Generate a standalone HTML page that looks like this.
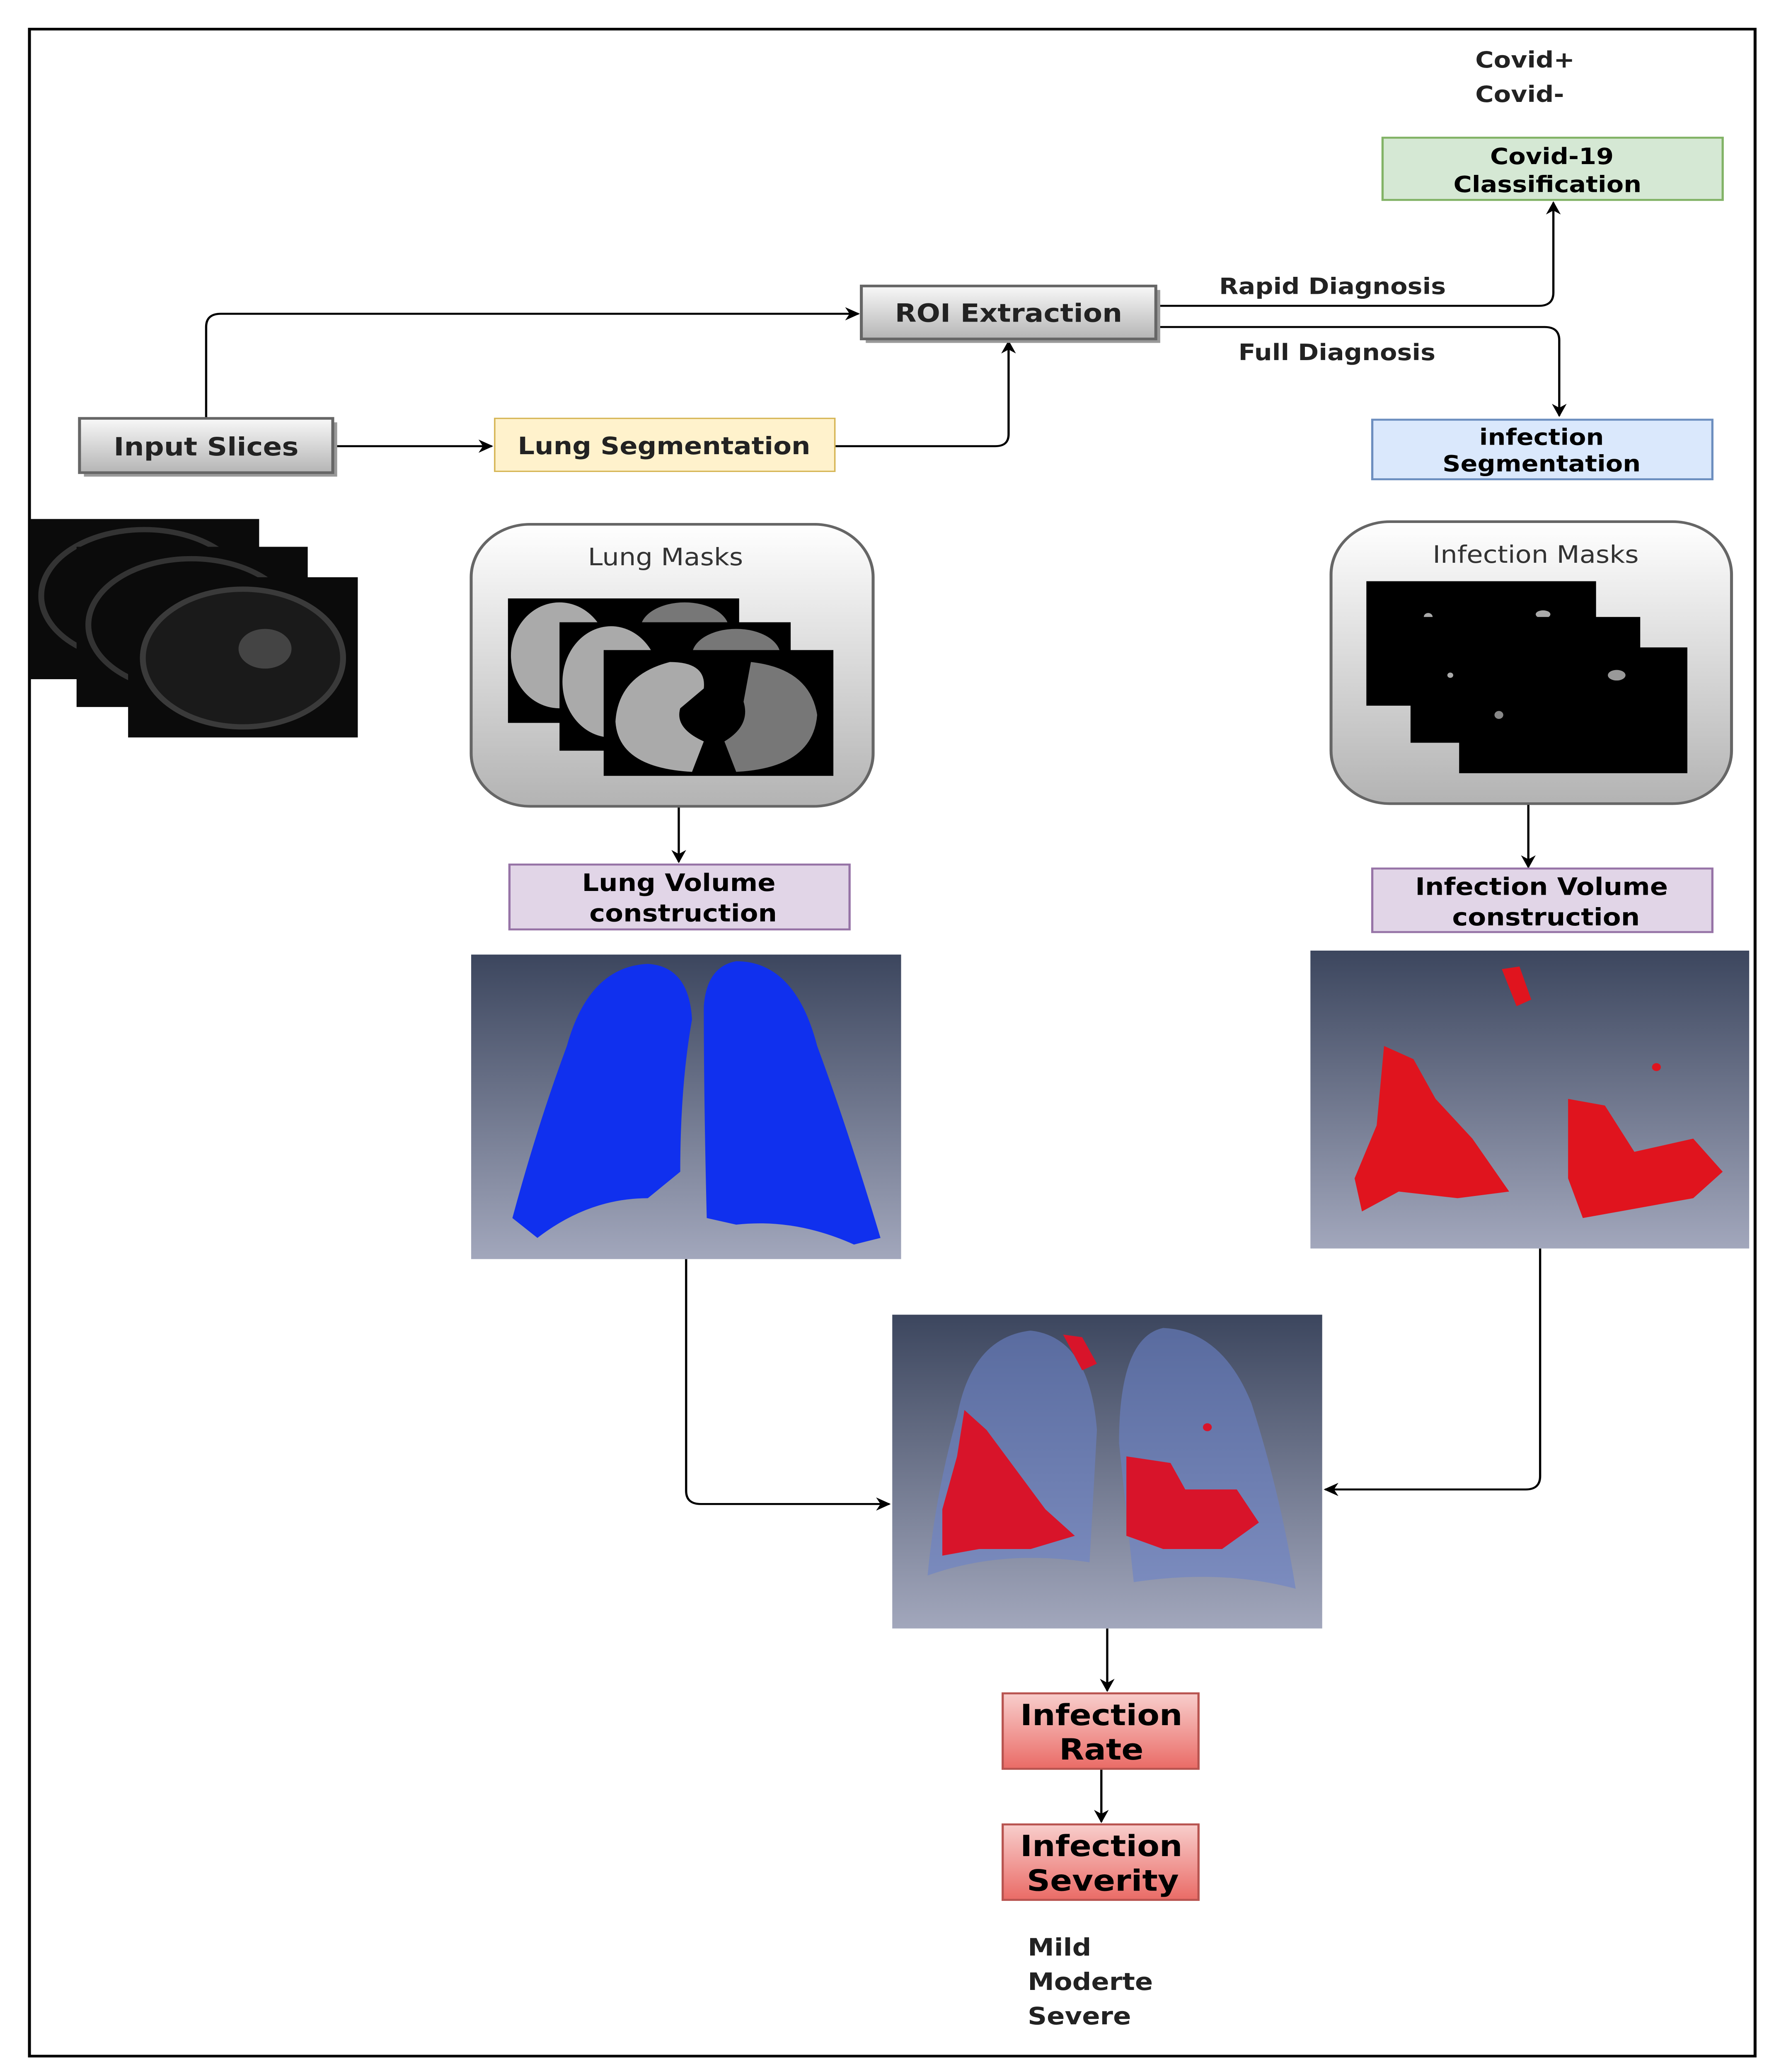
<!DOCTYPE html>
<html><head><meta charset="utf-8"><style>html,body{margin:0;padding:0;background:#fff;width:100%;height:100%;overflow:hidden}svg{display:block;position:fixed;left:0;top:0;width:100vw;height:100vh}</style></head><body>
<svg viewBox="0 0 1213 1565" preserveAspectRatio="none" xmlns="http://www.w3.org/2000/svg" font-family="DejaVu Sans, Liberation Sans, sans-serif">
<defs>
<linearGradient id="gray" x1="0" y1="0" x2="0" y2="1"><stop offset="0" stop-color="#f8f8f8"/><stop offset="1" stop-color="#b5b5b5"/></linearGradient>
<linearGradient id="rbox" x1="0" y1="0" x2="0" y2="1"><stop offset="0" stop-color="#ffffff"/><stop offset="1" stop-color="#b3b3b3"/></linearGradient>
<linearGradient id="red" x1="0" y1="0" x2="0" y2="1"><stop offset="0" stop-color="#f8cecc"/><stop offset="1" stop-color="#ea6b66"/></linearGradient>
<linearGradient id="bg3d" x1="0" y1="0" x2="0" y2="1"><stop offset="0" stop-color="#3c465e"/><stop offset="1" stop-color="#a2a7bc"/></linearGradient>
<marker id="ar" markerWidth="10" markerHeight="10" refX="9" refY="5" orient="auto" markerUnits="userSpaceOnUse"><path d="M0,0 L10,5 L0,10 L3,5 z" fill="#000"/></marker>
</defs>
<rect x="20" y="22" width="1172" height="1531" fill="none" stroke="#000" stroke-width="2"/>
<g font-weight="bold" font-size="17" fill="#222">
<text x="1002" y="51">Covid+</text><text x="1002" y="77">Covid-</text>
</g>
<rect x="939" y="104" width="231" height="47" fill="#d5e8d4" stroke="#82b366" stroke-width="1.5"/>
<text x="1054" y="124" text-anchor="middle" font-size="17" font-weight="bold">Covid-19</text>
<text x="1051" y="145" text-anchor="middle" font-size="17" font-weight="bold">Classification</text>
<g fill="none" stroke="#000" stroke-width="1.5">
<path d="M140,316 V247 Q140,237 150,237 H583" marker-end="url(#ar)"/>
<path d="M226,337 H334" marker-end="url(#ar)"/>
<path d="M567,337 H676 Q685,337 685,328 V258" marker-end="url(#ar)"/>
<path d="M785,231 H1045 Q1055,231 1055,221 V153" marker-end="url(#ar)"/>
<path d="M785,247 H1049 Q1059,247 1059,257 V314" marker-end="url(#ar)"/>
<path d="M461,609 V651" marker-end="url(#ar)"/>
<path d="M1038,607 V655" marker-end="url(#ar)"/>
<path d="M466,951 V1126 Q466,1136 476,1136 H604" marker-end="url(#ar)"/>
<path d="M1046,943 V1115 Q1046,1125 1036,1125 H900" marker-end="url(#ar)"/>
<path d="M752,1230 V1277" marker-end="url(#ar)"/>
<path d="M748,1336 V1376" marker-end="url(#ar)"/>
</g>
<rect x="588" y="219" width="200" height="40" fill="#999"/>
<rect x="585" y="216" width="200" height="40" fill="url(#gray)" stroke="#666" stroke-width="2"/>
<text x="685" y="243" text-anchor="middle" font-size="19" font-weight="bold" fill="#222">ROI Extraction</text>
<rect x="57" y="319" width="172" height="41" fill="#999"/>
<rect x="54" y="316" width="172" height="41" fill="url(#gray)" stroke="#666" stroke-width="2"/>
<text x="140" y="344" text-anchor="middle" font-size="19" font-weight="bold" fill="#222">Input Slices</text>
<rect x="336" y="316" width="231" height="40" fill="#fff2cc" stroke="#d6b656" stroke-width="1"/>
<text x="451" y="343" text-anchor="middle" font-size="18" font-weight="bold" fill="#222">Lung Segmentation</text>
<rect x="932" y="317" width="231" height="45" fill="#dae8fc" stroke="#6c8ebf" stroke-width="1.5"/>
<text x="1047" y="336" text-anchor="middle" font-size="17" font-weight="bold">infection</text>
<text x="1047" y="356" text-anchor="middle" font-size="17" font-weight="bold">Segmentation</text>
<text x="905" y="222" text-anchor="middle" font-size="17" font-weight="bold" fill="#222">Rapid Diagnosis</text>
<text x="908" y="272" text-anchor="middle" font-size="17" font-weight="bold" fill="#222">Full Diagnosis</text>
<g>
<rect x="20" y="392" width="156" height="121" fill="#0b0b0b"/><ellipse cx="98" cy="450" rx="70" ry="50" fill="none" stroke="#333" stroke-width="4"/>
<rect x="52" y="413" width="157" height="121" fill="#0b0b0b"/><ellipse cx="130" cy="472" rx="70" ry="50" fill="none" stroke="#333" stroke-width="4"/>
<rect x="87" y="436" width="156" height="121" fill="#0b0b0b"/><ellipse cx="165" cy="497" rx="68" ry="52" fill="#1a1a1a" stroke="#3a3a3a" stroke-width="4"/>
<ellipse cx="180" cy="490" rx="18" ry="15" fill="#444"/>
</g>
<rect x="320" y="396" width="273" height="213" rx="40" fill="url(#rbox)" stroke="#666" stroke-width="2"/>
<text x="452" y="427" text-anchor="middle" font-size="18" fill="#333">Lung Masks</text>
<rect x="345" y="452" width="157" height="94" fill="#000"/><ellipse cx="380" cy="495" rx="33" ry="40" fill="#aaa"/><ellipse cx="465" cy="475" rx="30" ry="20" fill="#777"/>
<rect x="380" y="470" width="157" height="97" fill="#000"/><ellipse cx="415" cy="515" rx="33" ry="42" fill="#aaa"/><ellipse cx="500" cy="495" rx="30" ry="20" fill="#777"/>
<rect x="410" y="491" width="156" height="95" fill="#000"/>
<path d="M455,500 Q420,510 418,545 Q420,580 470,583 L478,560 Q458,550 462,535 L478,520 Q480,500 455,500 z" fill="#aaa"/>
<path d="M510,500 Q550,505 555,540 Q552,580 500,583 L492,560 Q510,548 505,530 z" fill="#777"/>
<rect x="904" y="394" width="272" height="213" rx="40" fill="url(#rbox)" stroke="#666" stroke-width="2"/>
<text x="1043" y="425" text-anchor="middle" font-size="18" fill="#333">Infection Masks</text>
<rect x="928" y="439" width="156" height="94" fill="#000"/><circle cx="970" cy="466" r="3" fill="#aaa"/><ellipse cx="1048" cy="464" rx="5" ry="3" fill="#aaa"/>
<rect x="958" y="466" width="156" height="95" fill="#000"/><circle cx="985" cy="510" r="2" fill="#aaa"/><circle cx="1020" cy="515" r="3" fill="#aaa"/>
<rect x="991" y="489" width="155" height="95" fill="#000"/><ellipse cx="1098" cy="510" rx="6" ry="4" fill="#999"/><circle cx="1018" cy="540" r="3" fill="#888"/>
<rect x="346" y="653" width="231" height="49" fill="#e1d5e7" stroke="#9673a6" stroke-width="1.5"/>
<text x="461" y="673" text-anchor="middle" font-size="18" font-weight="bold">Lung Volume</text>
<text x="464" y="696" text-anchor="middle" font-size="18" font-weight="bold">construction</text>
<rect x="932" y="656" width="231" height="48" fill="#e1d5e7" stroke="#9673a6" stroke-width="1.5"/>
<text x="1047" y="676" text-anchor="middle" font-size="18" font-weight="bold">Infection Volume</text>
<text x="1050" y="699" text-anchor="middle" font-size="18" font-weight="bold">construction</text>
<rect x="320" y="721" width="292" height="230" fill="url(#bg3d)"/>
<path d="M440,728 Q400,730 385,790 Q365,850 348,920 L365,935 Q400,905 440,905 L462,885 Q462,820 470,770 Q468,730 440,728 z" fill="#1030ee"/>
<path d="M500,726 Q540,726 555,790 Q575,850 598,935 L580,940 Q540,920 500,925 L480,920 Q478,830 478,760 Q480,730 500,726 z" fill="#1030ee"/>
<rect x="890" y="718" width="298" height="225" fill="url(#bg3d)"/>
<path d="M940,790 L960,800 L975,830 L1000,860 L1025,900 L990,905 L950,900 L925,915 L920,890 L935,850 z" fill="#e0141e"/>
<path d="M1065,830 L1090,835 L1110,870 L1150,860 L1170,885 L1150,905 L1100,915 L1075,920 L1065,890 z" fill="#e0141e"/>
<path d="M1020,732 L1032,730 L1040,755 L1030,760 z" fill="#e0141e"/>
<circle cx="1125" cy="806" r="3" fill="#e0141e"/>
<rect x="606" y="993" width="292" height="237" fill="url(#bg3d)"/>
<path d="M700,1005 Q660,1010 650,1070 Q635,1130 630,1190 Q680,1170 740,1180 L745,1080 Q740,1010 700,1005 z" fill="#6a82c8" opacity="0.6"/>
<path d="M790,1003 Q830,1005 850,1060 Q870,1130 880,1200 Q830,1185 770,1195 L760,1090 Q760,1010 790,1003 z" fill="#6a82c8" opacity="0.6"/>
<path d="M655,1065 L670,1080 L690,1110 L710,1140 L730,1160 L700,1170 L665,1170 L640,1175 L640,1140 L650,1100 z" fill="#d8142a"/>
<path d="M765,1100 L795,1105 L805,1125 L840,1125 L855,1150 L830,1170 L790,1170 L765,1160 z" fill="#d8142a"/>
<path d="M722,1008 L735,1010 L745,1030 L735,1035 z" fill="#d8142a"/>
<circle cx="820" cy="1078" r="3" fill="#d8142a"/>
<rect x="681" y="1279" width="133" height="57" fill="url(#red)" stroke="#b85450" stroke-width="1.5"/>
<text x="748" y="1303" text-anchor="middle" font-size="22" font-weight="bold">Infection</text>
<text x="748" y="1329" text-anchor="middle" font-size="22" font-weight="bold">Rate</text>
<rect x="681" y="1378" width="133" height="57" fill="url(#red)" stroke="#b85450" stroke-width="1.5"/>
<text x="748" y="1402" text-anchor="middle" font-size="22" font-weight="bold">Infection</text>
<text x="749" y="1428" text-anchor="middle" font-size="22" font-weight="bold">Severity</text>
<g font-size="18" font-weight="bold" fill="#222">
<text x="698" y="1477">Mild</text><text x="698" y="1503">Moderte</text><text x="698" y="1529">Severe</text>
</g>
</svg>
</body></html>
